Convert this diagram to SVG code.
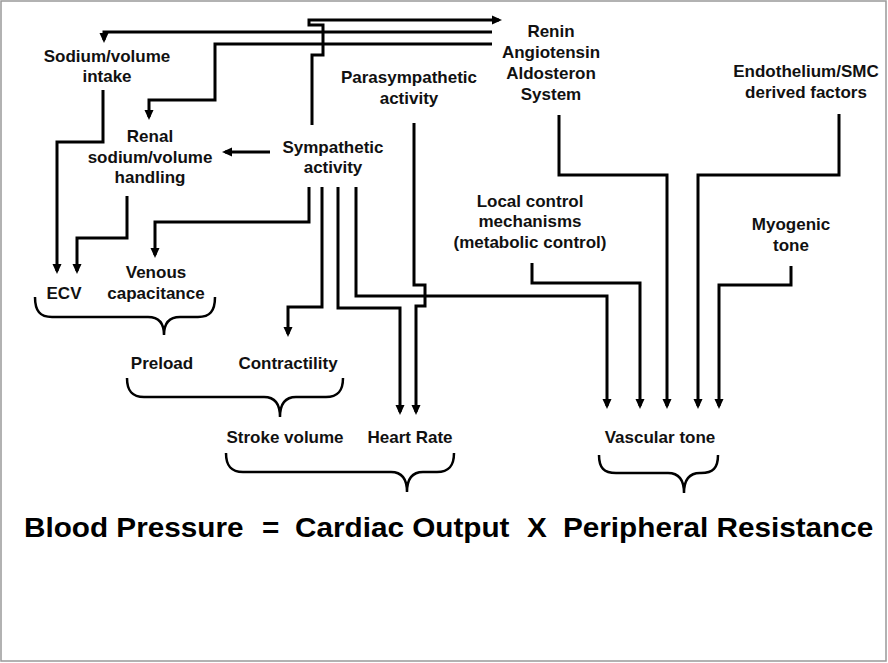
<svg xmlns="http://www.w3.org/2000/svg" width="888" height="663" viewBox="0 0 888 663">
<defs>
<marker id="ah" markerUnits="userSpaceOnUse" markerWidth="10" markerHeight="10" viewBox="0 0 10 10" refX="7" refY="5" orient="auto">
<path d="M0,0.5 L10,5 L0,9.5 z" fill="#000"/>
</marker>
<style>
.t{font-family:"Liberation Sans",Arial,sans-serif;font-weight:bold;font-size:17px;fill:#111;text-anchor:middle}
.big{font-family:"Liberation Sans",Arial,sans-serif;font-weight:bold;font-size:27px;fill:#000}
.c{fill:none;stroke:#000;stroke-width:3;marker-end:url(#ah)}
.b{fill:none;stroke:#000;stroke-width:2.5}
</style>
</defs>
<rect x="1" y="1" width="885" height="660" fill="#fff" stroke="#999" stroke-width="1.5"/>
<g id="connectors">
<path class="c" d="M312,125 V55 H323 V25 H309 V20 H499"/>
<path class="c" d="M492,32 H104 V40"/>
<path class="c" d="M492,44 H215 V100 H149 V117"/>
<path class="c" d="M103,90 V142 H57 V271"/>
<path class="c" d="M127,196 V238 H77 V271"/>
<path class="c" d="M270,152 H225"/>
<path class="c" d="M309,187 V222 H155 V255"/>
<path class="c" d="M322,187 V307 H288 V334"/>
<path class="c" d="M338,187 V308 H400 V412"/>
<path class="c" d="M356,187 V296 H607 V406"/>
<path class="c" d="M414,123 V285 H425 V306 H416 V412"/>
<path class="c" d="M559,115 V175 H667 V406"/>
<path class="c" d="M839,114 V175 H698 V406"/>
<path class="c" d="M532,263 V283 H640 V406"/>
<path class="c" d="M791,266 V285 H719 V406"/>
</g>
<g id="braces">
<path class="b" d="M35,297 C35,311 40,317 52,317 H148 C158,317 164,322 164,335 C164,322 170,317 180,317 H198 C210,317 215,311 215,297"/>
<path class="b" d="M127,378 C127,391 132,397 144,397 H264 C274,397 280,403 280,417 C280,403 286,397 296,397 H326 C338,397 343,391 343,378"/>
<path class="b" d="M226,453 C226,466 231,472 243,472 H391 C401,472 407,478 407,492 C407,478 413,472 423,472 H437 C449,472 454,466 454,453"/>
<path class="b" d="M599,455 C599,468 604,473 616,473 H668 C678,473 684,479 684,493 C684,479 690,473 700,473 H701 C713,473 718,468 718,455"/>
</g>
<g id="sodium-intake"><text class="t" x="107" y="62">Sodium/volume</text><text class="t" x="107" y="82">intake</text></g>
<g id="renal"><text class="t" x="150" y="142">Renal</text><text class="t" x="150" y="163">sodium/volume</text><text class="t" x="150" y="183">handling</text></g>
<g id="sympathetic"><text class="t" x="333" y="153">Sympathetic</text><text class="t" x="333" y="173">activity</text></g>
<g id="parasympathetic"><text class="t" x="409" y="83">Parasympathetic</text><text class="t" x="409" y="104">activity</text></g>
<g id="raas"><text class="t" x="551" y="37">Renin</text><text class="t" x="551" y="58">Angiotensin</text><text class="t" x="551" y="79">Aldosteron</text><text class="t" x="551" y="100">System</text></g>
<g id="endothelium"><text class="t" x="806" y="77">Endothelium/SMC</text><text class="t" x="806" y="98">derived factors</text></g>
<g id="local-control"><text class="t" x="530" y="207">Local control</text><text class="t" x="530" y="227">mechanisms</text><text class="t" x="530" y="248">(metabolic control)</text></g>
<g id="myogenic"><text class="t" x="791" y="230">Myogenic</text><text class="t" x="791" y="251">tone</text></g>
<g id="ecv"><text class="t" x="64" y="299">ECV</text></g>
<g id="venous"><text class="t" x="156" y="278">Venous</text><text class="t" x="156" y="299">capacitance</text></g>
<g id="preload"><text class="t" x="162" y="369">Preload</text></g>
<g id="contractility"><text class="t" x="288" y="369">Contractility</text></g>
<g id="stroke-volume"><text class="t" x="285" y="443">Stroke volume</text></g>
<g id="heart-rate"><text class="t" x="410" y="443">Heart Rate</text></g>
<g id="vascular-tone"><text class="t" x="660" y="443">Vascular tone</text></g>
<g id="equation">
<text class="big" transform="translate(24,537) scale(1.1,1)">Blood Pressure</text>
<text class="big" transform="translate(262,537) scale(1.1,1)">=</text>
<text class="big" transform="translate(295,537) scale(1.1,1)">Cardiac Output</text>
<text class="big" transform="translate(527,537) scale(1.1,1)">X</text>
<text class="big" transform="translate(563,537) scale(1.1,1)">Peripheral Resistance</text>
</g>
</svg>
